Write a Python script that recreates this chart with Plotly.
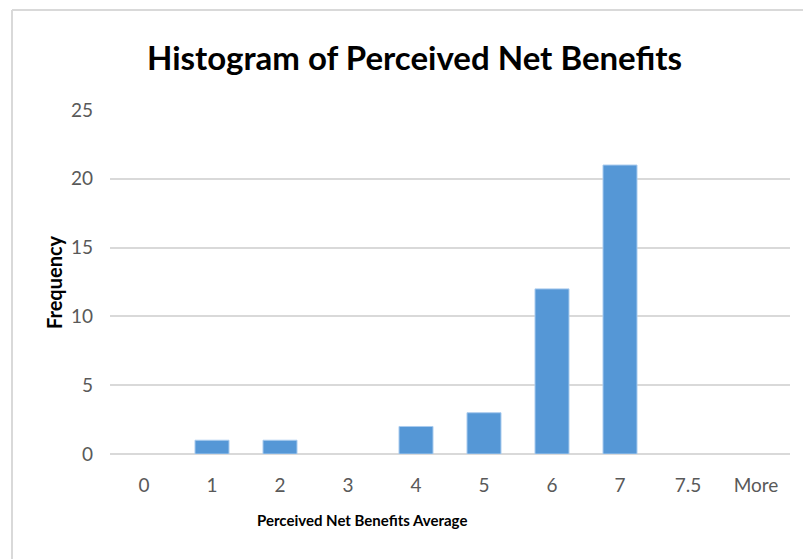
import plotly.graph_objects as go

# Histogram bins and counts
bins = ["0", "1", "2", "3", "4", "5", "6", "7", "7.5", "More"]
frequency = [0, 1, 1, 0, 2, 3, 12, 21, 0, 0]
y_ticks = [0, 5, 10, 15, 20, 25]

W, H = 803, 559
L, R, T, B = 110, 13, 110, 105
pw, ph = W - L - R, H - T - B

def px_x(x):
    return (x - L) / pw

def px_y(y):
    return (H - B - y) / ph

# empty bins get no outline so nothing shows on the baseline
outline_widths = [1 if v > 0 else 0 for v in frequency]

fig = go.Figure(
    go.Bar(
        x=bins,
        y=frequency,
        marker=dict(color="#5597d6", line=dict(color="#a9cbee", width=outline_widths)),
        hoverinfo="x+y",
    )
)

tick_font = dict(family="Lato, sans-serif", size=19, color="#595959")

fig.update_layout(
    width=W,
    height=H,
    margin=dict(l=L, r=R, t=T, b=B),
    paper_bgcolor="white",
    plot_bgcolor="white",
    bargap=0.5,
    showlegend=False,
    xaxis=dict(
        type="category",
        showgrid=False,
        showline=False,
        zeroline=False,
        ticks="",
        tickfont=tick_font,
        ticklabelstandoff=18,
    ),
    yaxis=dict(
        range=[0, 25],
        tickvals=y_ticks,
        showgrid=True,
        gridcolor="#d9d9d9",
        gridwidth=1.5,
        zeroline=True,
        zerolinecolor="#d9d9d9",
        zerolinewidth=1.5,
        showline=False,
        ticks="",
        tickfont=tick_font,
        ticklabelstandoff=16,
    ),
    annotations=[
        dict(
            text="<b>Histogram of Perceived Net Benefits</b>",
            x=px_x(414), y=px_y(57), xref="paper", yref="paper",
            xanchor="center", yanchor="middle", showarrow=False,
            font=dict(family="Lato, sans-serif", size=33, color="#000000"),
        ),
        dict(
            text="<b>Perceived Net Benefits Average</b>",
            x=px_x(362), y=px_y(520), xref="paper", yref="paper",
            xanchor="center", yanchor="middle", showarrow=False,
            font=dict(family="Lato, sans-serif", size=15, color="#000000"),
        ),
        dict(
            text="<b>Frequency</b>",
            x=px_x(54), y=px_y(282), xref="paper", yref="paper",
            xanchor="center", yanchor="middle", showarrow=False, textangle=-90,
            font=dict(family="Lato, sans-serif", size=20, color="#000000"),
        ),
    ],
    shapes=[
        # chart frame: top and left edges
        dict(type="line", xref="paper", yref="paper",
             x0=px_x(12), x1=px_x(803), y0=px_y(10), y1=px_y(10),
             line=dict(color="#d9d9d9", width=2)),
        dict(type="line", xref="paper", yref="paper",
             x0=px_x(12), x1=px_x(12), y0=px_y(10), y1=px_y(559),
             line=dict(color="#d9d9d9", width=2)),
    ],
)

fig.write_html("out.html")
